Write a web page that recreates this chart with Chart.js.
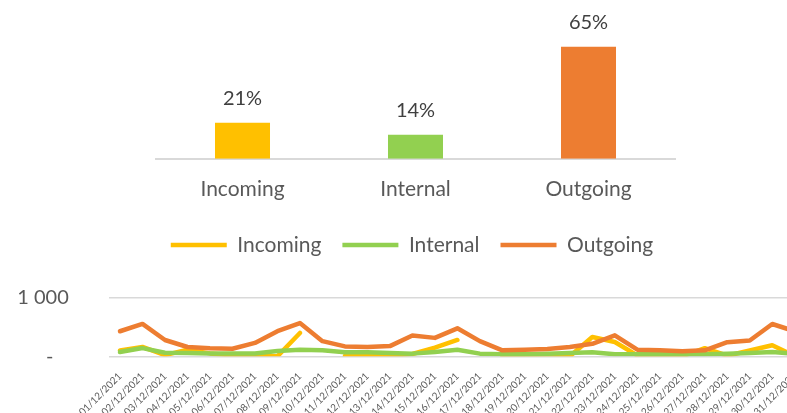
<!DOCTYPE html>
<html>
<head>
<meta charset="utf-8">
<script src="https://cdn.jsdelivr.net/npm/chart.js@4.4.0/dist/chart.umd.min.js"></script>
<style>
  html, body { margin: 0; padding: 0; background: #fff; }
  body { width: 787px; height: 413px; overflow: hidden; position: relative; }
  canvas { position: absolute; left: 0; }
  #shareChart { top: 0; }
  #dailyChart { top: 200px; }
</style>
</head>
<body>
<canvas id="shareChart" width="787" height="220"></canvas>
<canvas id="dailyChart" width="826" height="232"></canvas>
<script>
// ============ DATA ============

const categories = ['Incoming', 'Internal', 'Outgoing'];
const sharePct = [21, 14, 65];
const seriesColors = ['#FFC000', '#92D050', '#ED7D31'];

const days = [
    '01/12/2021', '02/12/2021', '03/12/2021', '04/12/2021', '05/12/2021',
    '06/12/2021', '07/12/2021', '08/12/2021', '09/12/2021', '10/12/2021',
    '11/12/2021', '12/12/2021', '13/12/2021', '14/12/2021', '15/12/2021',
    '16/12/2021', '17/12/2021', '18/12/2021', '19/12/2021', '20/12/2021',
    '21/12/2021', '22/12/2021', '23/12/2021', '24/12/2021', '25/12/2021',
    '26/12/2021', '27/12/2021', '28/12/2021', '29/12/2021', '30/12/2021',
    '31/12/2021'
];
const incoming = [100, 160, 20, 115, 50, 15, 5, 0, 400, null, 5, 5, 10, 40, 150,
    280, null, 0, 0, 15, 0, 330, 245, 15, 0, 0, 140, 10, 100, 190, 5];
const internal = [73, 141, 62, 56, 50, 50, 50, 90, 113, 102, 68, 68, 56, 46, 73,
    113, 46, 34, 34, 46, 56, 68, 34, 34, 34, 34, 34, 46, 56, 73, 45];
const outgoing = [430, 555, 280, 160, 140, 130, 230, 430, 570, 260, 170, 158, 175, 356, 316,
    480, 260, 102, 113, 124, 158, 215, 360, 113, 102, 85, 102, 243, 271, 554, 430];

const FONT = 'Lato, "Open Sans", sans-serif';
const GREY = '#595959';
const GRID = '#D9D9D9';

// ============ SHARE (BAR) CHART ============

const pctLabels = {
    id: 'pctLabels',
    afterDatasetsDraw(chart) {
        const ctx = chart.ctx;
        const meta = chart.getDatasetMeta(0);
        ctx.save();
        ctx.font = '20px ' + FONT;
        ctx.fillStyle = '#404040';
        ctx.textAlign = 'center';
        ctx.textBaseline = 'middle';
        meta.data.forEach((bar, i) => {
            ctx.fillText(sharePct[i] + '%', bar.x, bar.y - 24);
        });
        ctx.restore();
    }
};

new Chart(document.getElementById('shareChart'), {
    type: 'bar',
    data: {
        labels: categories,
        datasets: [{
            data: sharePct,
            backgroundColor: seriesColors,
            borderWidth: 0,
            barPercentage: 0.318,
            categoryPercentage: 1
        }]
    },
    options: {
        responsive: false,
        animation: false,
        devicePixelRatio: 1,
        layout: { padding: { left: 156, right: 112, top: 21, bottom: 0 } },
        plugins: { legend: { display: false }, tooltip: { enabled: false } },
        scales: {
            x: {
                grid: { display: false, drawTicks: false },
                border: { display: true, color: GRID, width: 2 },
                ticks: { color: GREY, font: { family: FONT, size: 21 }, padding: 18 }
            },
            y: { display: false, min: 0, max: 80 }
        }
    },
    plugins: [pctLabels]
});

// ============ DAILY (LINE) CHART ============

const legendGap = {
    id: 'legendGap',
    beforeInit(chart) {
        const origFit = chart.legend.fit;
        chart.legend.fit = function () {
            origFit.bind(chart.legend)();
            this.height += 32.5;
        };
    }
};

function lineSet(label, values, color, order) {
    return {
        label: label,
        data: values,
        borderColor: color,
        backgroundColor: color,
        borderWidth: 4.5,
        borderCapStyle: 'round',
        borderJoinStyle: 'round',
        pointRadius: 0,
        pointStyle: 'line',
        tension: 0,
        spanGaps: false,
        order: order
    };
}

new Chart(document.getElementById('dailyChart'), {
    type: 'line',
    data: {
        labels: days,
        datasets: [
            lineSet('Incoming', incoming, seriesColors[0], 3),
            lineSet('Internal', internal, seriesColors[1], 2),
            lineSet('Outgoing', outgoing, seriesColors[2], 1)
        ]
    },
    options: {
        responsive: false,
        animation: false,
        devicePixelRatio: 1,
        layout: { padding: { left: 18, right: 20, top: 13.5, bottom: 0 } },
        plugins: {
            tooltip: { enabled: false },
            legend: {
                position: 'top',
                labels: {
                    usePointStyle: true,
                    pointStyle: 'line',
                    pointStyleWidth: 56,
                    padding: 21,
                    color: GREY,
                    font: { family: FONT, size: 21 },
                    sort: (a, b) => a.datasetIndex - b.datasetIndex
                }
            }
        },
        scales: {
            x: {
                offset: true,
                grid: { display: false, drawTicks: false },
                border: { display: false },
                ticks: {
                    color: GREY,
                    font: { family: FONT, size: 10 },
                    minRotation: 45,
                    maxRotation: 45,
                    autoSkip: false,
                    padding: 14
                }
            },
            y: {
                min: 0,
                max: 1000,
                grid: { color: GRID, lineWidth: 1.5, drawTicks: false },
                border: { display: false },
                afterFit: (axis) => { axis.width = 90.75; },
                ticks: {
                    stepSize: 1000,
                    color: GREY,
                    font: { family: FONT, size: 20 },
                    padding: 40,
                    callback: (v) => v === 0 ? '-\u00a0\u00a0\u00a0' : '1 000'
                }
            }
        }
    },
    plugins: [legendGap]
});
</script>
</body>
</html>
